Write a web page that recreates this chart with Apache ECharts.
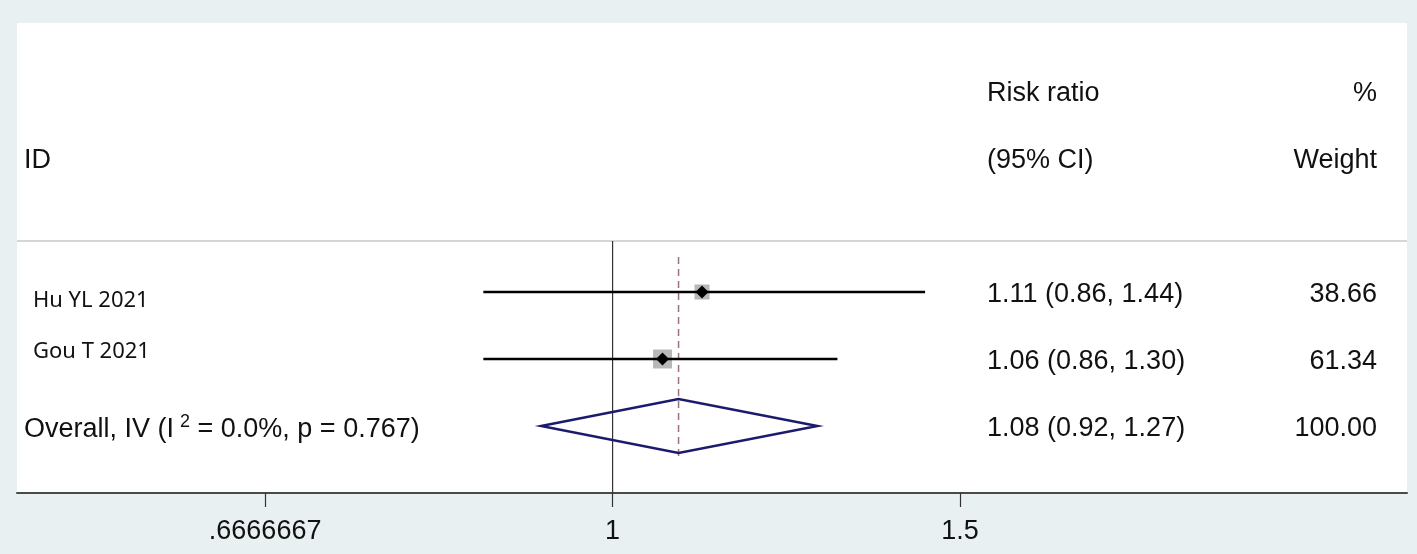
<!DOCTYPE html>
<html>
<head>
<meta charset="utf-8">
<script src="https://cdn.jsdelivr.net/npm/echarts@6/dist/echarts.min.js"></script>
<style>
  html, body { margin: 0; padding: 0; background: #e9f0f2; }
  #chart { width: 1417px; height: 554px; }
</style>
</head>
<body>
<div id="chart"></div>
<script>
// studies
var studyNames = ['Hu YL 2021', 'Gou T 2021'];
var studyRR = [1.11, 1.06];
var studyLower = [0.86, 0.86];
var studyUpper = [1.44, 1.30];
var studyWeight = [38.66, 61.34];

// pooled (IV, fixed)
var overallParts = ['Overall, IV (I', '2', ' = 0.0%, p = 0.767)'];
var overallRR = 1.08;
var overallLower = 0.92;
var overallUpper = 1.27;
var overallWeight = 100.00;

// x axis (log scale)
var tickValues = [2 / 3, 1, 1.5];
var tickLabels = ['.6666667', '1', '1.5'];

// column headers
var headLeft = ['', 'ID'];
var headRisk = ['Risk ratio', '(95% CI)'];
var headWeight = ['%', 'Weight'];

var ln = Math.log;
var FONT = '"Liberation Sans", Arial, sans-serif';
var LABEL_FONT = '"Noto Sans", "Open Sans", sans-serif';
var TEXT = '#111';
var COL_ID = 24, COL_STUDY = 33, COL_RISK = 987, COL_WEIGHT = 1377;
var TEXT_DY = 2.5;
var studyNudge = [6, -10]; // the study labels sit a bit off their row
var SEP_ROW = 0.239;

function fmt(v) { return v.toFixed(2); }
function ciText(rr, lo, hi) { return fmt(rr) + ' (' + fmt(lo) + ', ' + fmt(hi) + ')'; }

function txt(x, y, s, align, font, size) {
  return {
    type: 'text',
    style: { x: x, y: y + TEXT_DY, text: s, align: align || 'left', verticalAlign: 'middle',
      fill: TEXT, fontFamily: font || FONT, fontSize: size || 27 }
  };
}

var chart = echarts.init(document.getElementById('chart'));

var option = {
  backgroundColor: '#e9f0f2',
  animation: false,
  grid: { left: 17, right: 10, top: 23, bottom: 61, show: true, backgroundColor: '#fff', borderWidth: 0 },
  xAxis: {
    type: 'value',
    min: -0.695,
    max: 0.927,
    axisLine: { show: true, onZero: false, lineStyle: { color: '#4a4a4a', width: 2 } },
    axisTick: { show: true, length: 14, customValues: tickValues.map(ln), lineStyle: { color: '#333', width: 1.2 } },
    axisLabel: {
      customValues: tickValues.map(ln),
      margin: 25,
      fontSize: 27,
      fontFamily: FONT,
      color: TEXT,
      formatter: function (v) {
        for (var i = 0; i < tickValues.length; i++) {
          if (Math.abs(ln(tickValues[i]) - v) < 1e-6) return tickLabels[i];
        }
        return '';
      }
    },
    splitLine: { show: false }
  },
  yAxis: { type: 'value', inverse: true, min: -3.015, max: 4.0, show: false },
  series: [
    {
      // reference lines: null line, separator, pooled estimate (dashed)
      type: 'custom',
      silent: true,
      data: [[0, 0]],
      renderItem: function (params, api) {
        var yMax = 4.0;
        var nullTop = api.coord([0, SEP_ROW]);
        var nullBot = api.coord([0, yMax]);
        var sepL = api.coord([-0.695, SEP_ROW]);
        var sepR = api.coord([0.927, SEP_ROW]);
        var dTop = api.coord([ln(overallRR), 0.478]);
        var dBot = api.coord([ln(overallRR), 3.507]);
        return { type: 'group', children: [
          { type: 'line', shape: { x1: sepL[0], y1: sepL[1], x2: sepR[0], y2: sepR[1] }, style: { stroke: '#c9c9c9', lineWidth: 1.5 } },
          { type: 'line', shape: { x1: nullTop[0], y1: nullTop[1], x2: nullBot[0], y2: nullBot[1] }, style: { stroke: '#333', lineWidth: 1.2 } },
          { type: 'line', shape: { x1: dTop[0], y1: dTop[1], x2: dBot[0], y2: dBot[1] }, style: { stroke: '#a07078', lineWidth: 1.5, lineDash: [7, 5] } }
        ] };
      }
    },
    {
      // study estimates
      type: 'custom',
      silent: true,
      data: studyRR.map(function (v, i) { return [ln(v), i + 1, ln(studyLower[i]), ln(studyUpper[i]), studyWeight[i]]; }),
      encode: { x: [0, 2, 3], y: 1 },
      renderItem: function (params, api) {
        var row = api.value(1);
        var c = api.coord([api.value(0), row]);
        var lo = api.coord([api.value(2), row]);
        var hi = api.coord([api.value(3), row]);
        var side = 2.42 * Math.sqrt(api.value(4));
        var m = 6.5;
        return { type: 'group', children: [
          { type: 'rect', shape: { x: c[0] - side / 2, y: c[1] - side / 2, width: side, height: side }, style: { fill: '#b8b8b8' } },
          { type: 'line', shape: { x1: lo[0], y1: lo[1], x2: hi[0], y2: hi[1] }, style: { stroke: '#000', lineWidth: 2.5 } },
          { type: 'polygon', shape: { points: [[c[0] - m, c[1]], [c[0], c[1] - m], [c[0] + m, c[1]], [c[0], c[1] + m]] }, style: { fill: '#000' } }
        ] };
      }
    },
    {
      // pooled diamond
      type: 'custom',
      silent: true,
      data: [[ln(overallRR), 3, ln(overallLower), ln(overallUpper)]],
      encode: { x: [0, 2, 3], y: 1 },
      renderItem: function (params, api) {
        var row = api.value(1);
        var h = 0.403;
        var top = api.coord([api.value(0), row - h]);
        var bot = api.coord([api.value(0), row + h]);
        var l = api.coord([api.value(2), row]);
        var r = api.coord([api.value(3), row]);
        return { type: 'polygon', shape: { points: [l, top, r, bot] },
          style: { fill: 'none', stroke: '#1b1b6e', lineWidth: 2.5 } };
      }
    },
    {
      // table text
      type: 'custom',
      silent: true,
      data: [[0, 0]],
      renderItem: function (params, api) {
        var kids = [];
        var y;
        for (var h = 0; h < 2; h++) {
          y = api.coord([0, h - 2])[1];
          if (headLeft[h]) kids.push(txt(COL_ID, y, headLeft[h]));
          kids.push(txt(COL_RISK, y, headRisk[h]));
          kids.push(txt(COL_WEIGHT, y, headWeight[h], 'right'));
        }
        studyNames.forEach(function (name, i) {
          y = api.coord([0, i + 1])[1];
          kids.push(txt(COL_STUDY, y + studyNudge[i], name, 'left', LABEL_FONT, 22));
          kids.push(txt(COL_RISK, y, ciText(studyRR[i], studyLower[i], studyUpper[i])));
          kids.push(txt(COL_WEIGHT, y, fmt(studyWeight[i]), 'right'));
        });
        y = api.coord([0, 3])[1];
        kids.push({
          type: 'text',
          style: {
            x: COL_ID, y: y + TEXT_DY + 1, align: 'left', verticalAlign: 'middle',
            text: '{a|' + overallParts[0] + '}{s|' + overallParts[1] + '}{a|' + overallParts[2] + '}',
            rich: {
              a: { fontSize: 27, fontFamily: FONT, fill: TEXT, lineHeight: 32 },
              s: { fontSize: 18, fontFamily: FONT, fill: TEXT, verticalAlign: 'top', padding: [0, 0, 10, 6] }
            }
          }
        });
        kids.push(txt(COL_RISK, y, ciText(overallRR, overallLower, overallUpper)));
        kids.push(txt(COL_WEIGHT, y, fmt(overallWeight), 'right'));
        return { type: 'group', children: kids };
      }
    }
  ]
};

chart.setOption(option);
</script>
</body>
</html>
